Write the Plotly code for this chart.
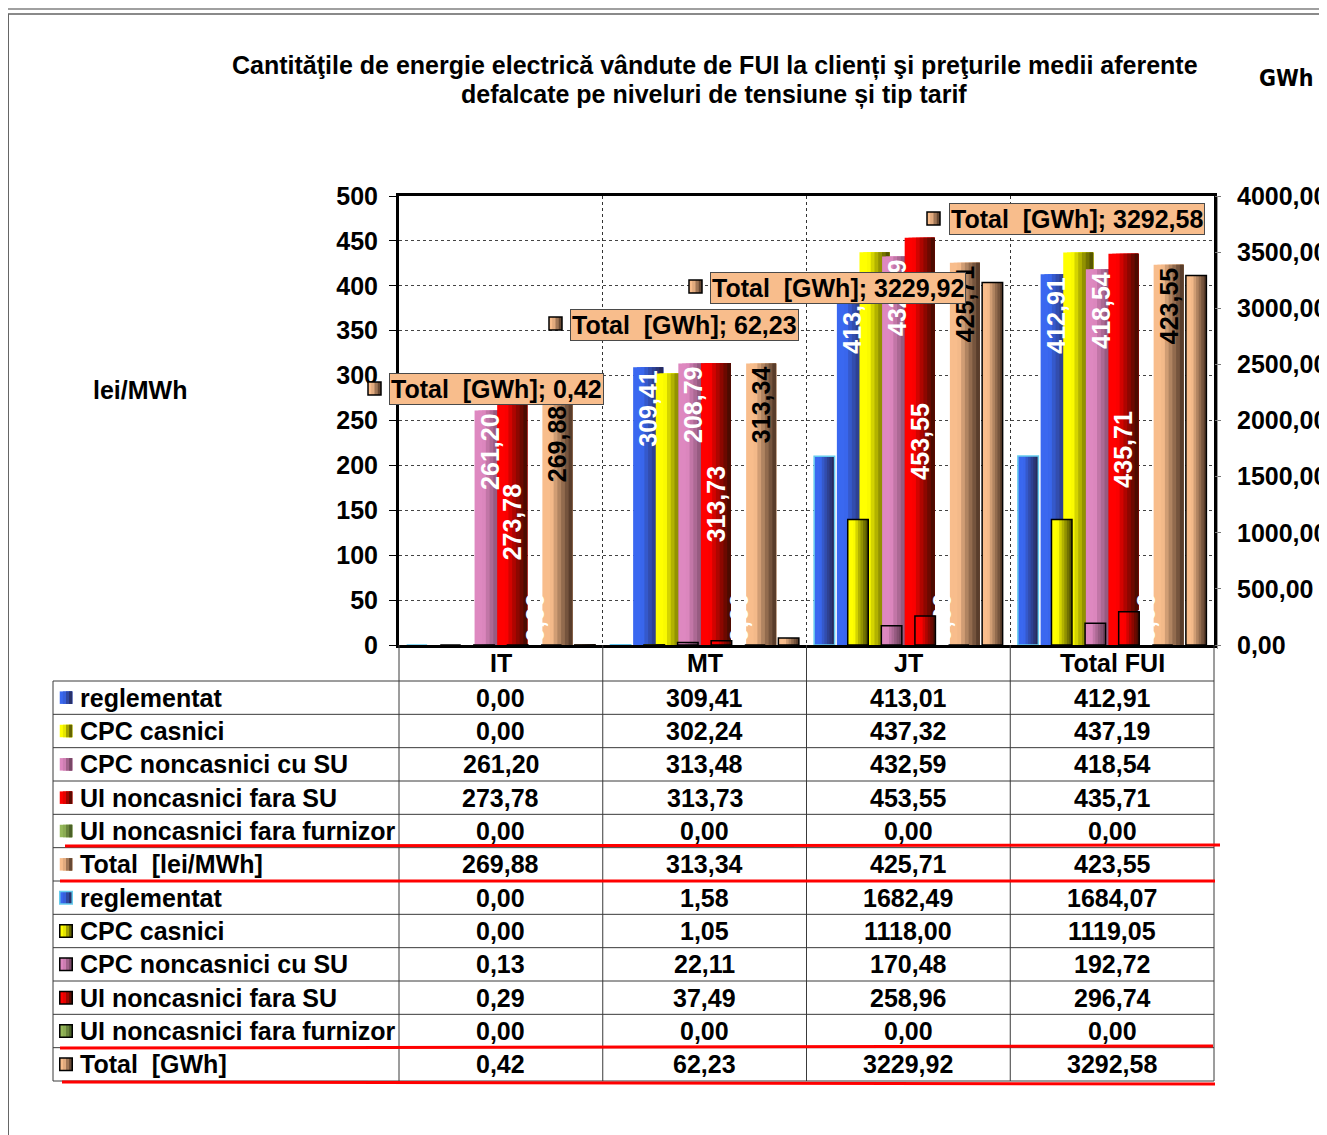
import plotly.graph_objects as go

# ---------------- data ----------------
categories = ["IT", "MT", "JT", "Total FUI"]

# average prices [lei/MWh]  (primary axis)
lei_reglementat = [0.00, 309.41, 413.01, 412.91]
lei_cpc_casnici = [0.00, 302.24, 437.32, 437.19]
lei_cpc_noncasnici_su = [261.20, 313.48, 432.59, 418.54]
lei_ui_fara_su = [273.78, 313.73, 453.55, 435.71]
lei_ui_fara_furnizor = [0.00, 0.00, 0.00, 0.00]
lei_total = [269.88, 313.34, 425.71, 423.55]

# quantities [GWh]  (secondary axis)
gwh_reglementat = [0.00, 1.58, 1682.49, 1684.07]
gwh_cpc_casnici = [0.00, 1.05, 1118.00, 1119.05]
gwh_cpc_noncasnici_su = [0.13, 22.11, 170.48, 192.72]
gwh_ui_fara_su = [0.29, 37.49, 258.96, 296.74]
gwh_ui_fara_furnizor = [0.00, 0.00, 0.00, 0.00]
gwh_total = [0.42, 62.23, 3229.92, 3292.58]

# data labels as printed on the pink bars
lbl_cpc_noncasnici_su = ["261,20", "208,79", "432,59", "418,54"]

series_names = ["reglementat", "CPC casnici", "CPC noncasnici cu SU",
                "UI noncasnici fara SU", "UI noncasnici fara furnizor"]
lei_total_name = "Total\u00a0 [lei/MWh]"
gwh_total_name = "Total\u00a0 [GWh]"
y_left_title = "lei/MWh"
y_right_title = "GWh"
title_line1 = "Cantităţile de energie electrică vândute de FUI la clienți şi preţurile medii aferente"
title_line2 = "defalcate pe niveluri de tensiune și tip tarif"

# ---------------- styling / geometry ----------------
OFF = 8                      # page body margin of the html page
PAGE_W, PAGE_H = 1327, 1135
FW, FH = PAGE_W - OFF, PAGE_H - OFF
FONT = "Liberation Sans, Arial, sans-serif"
NARROW = "DejaVu Sans Condensed, Liberation Sans Narrow, Arial Narrow, sans-serif"
FS = 25


def px(x):
    return (x - OFF) / FW


def py(y):
    return 1 - (y - OFF) / FH


def fmt(v):
    return f"{v:.2f}".replace(".", ",")


def bold(size=FS, color="black", family=FONT):
    return dict(family=family, size=size, color=color, weight="bold")


PL, PR, PT, PB = 399, 1214, 196, 645
CAT = (PR - PL) / 4.0

LEI_W, LEI_STEP, LEI_C0 = 30 / CAT, 22.6 / CAT, -56.5 / CAT
GWH_W, GWH_STEP, GWH_C0 = 20.5 / CAT, 33.6 / CAT, -84 / CAT

light = [(58, 104, 240), (255, 255, 0), (222, 136, 192), (255, 0, 0), (150, 185, 90), (248, 189, 140)]
dark = [(38, 38, 80), (70, 70, 0), (100, 60, 85), (60, 12, 0), (60, 80, 30), (75, 50, 35)]
gwh_edge = ["#66ccee", "black", "black", "black", "black", "black"]


def shade(j, t):
    f = 0.0 if t < 0.3 else ((t - 0.3) / 0.7) ** 0.9
    c = [round(a + (b - a) * f) for a, b in zip(light[j], dark[j])]
    return f"rgb({c[0]},{c[1]},{c[2]})"


N = 8
lei_series = [lei_reglementat, lei_cpc_casnici, lei_cpc_noncasnici_su,
              lei_ui_fara_su, lei_ui_fara_furnizor, lei_total]
gwh_series = [gwh_reglementat, gwh_cpc_casnici, gwh_cpc_noncasnici_su,
              gwh_ui_fara_su, gwh_ui_fara_furnizor, gwh_total]

label_specs = [
    ([fmt(v) if v else "" for v in lei_reglementat], "white", "inside", "end"),
    None,
    (lbl_cpc_noncasnici_su, "white", "inside", "end"),
    ([fmt(v) for v in lei_ui_fara_su], "white", "inside", "middle"),
    ([fmt(v) for v in lei_ui_fara_furnizor], "white", "outside", "end"),
    ([fmt(v) for v in lei_total], "black", "inside", "end"),
]

fig = go.Figure()

# primary (lei/MWh) bars with horizontal gradient
for j, vals in enumerate(lei_series):
    c = LEI_C0 + j * LEI_STEP
    for k in range(N):
        fig.add_trace(go.Bar(
            x=categories, y=vals, yaxis="y",
            width=LEI_W * (1 - k / N), offset=c - LEI_W / 2 + k * LEI_W / N,
            marker=dict(color=shade(j, (k + 0.5) / N), line=dict(width=0)),
            hoverinfo="skip", showlegend=False))

# labels of primary bars
for j, vals in enumerate(lei_series):
    spec = label_specs[j]
    if spec is None:
        continue
    texts, col, pos, anch = spec
    c = LEI_C0 + j * LEI_STEP
    fig.add_trace(go.Bar(
        x=categories, y=vals, yaxis="y",
        width=LEI_W, offset=c - LEI_W / 2,
        marker=dict(color="rgba(0,0,0,0)", line=dict(width=0)),
        text=texts, textposition=pos, insidetextanchor=anch, textangle=-90,
        constraintext="none", cliponaxis=False,
        textfont=bold(color=col),
        hoverinfo="skip", showlegend=False))

# secondary (GWh) bars
for j, vals in enumerate(gwh_series):
    c = GWH_C0 + j * GWH_STEP
    for k in range(N):
        fig.add_trace(go.Bar(
            x=categories, y=vals, yaxis="y2",
            width=GWH_W * (1 - k / N), offset=c - GWH_W / 2 + k * GWH_W / N,
            marker=dict(color=shade(j, (k + 0.5) / N), line=dict(width=0)),
            hoverinfo="skip", showlegend=False))
    fig.add_trace(go.Bar(
        x=categories, y=vals, yaxis="y2",
        width=GWH_W, offset=c - GWH_W / 2,
        marker=dict(color="rgba(0,0,0,0)", line=dict(width=1.5, color=gwh_edge[j])),
        hoverinfo="skip", showlegend=False))

shapes = []
annotations = []

# frame lines
shapes += [
    dict(type="line", xref="paper", yref="paper", x0=0, x1=1, y0=py(9), y1=py(9),
         line=dict(color="#a0a0a0", width=2)),
    dict(type="line", xref="paper", yref="paper", x0=0, x1=1, y0=py(14), y1=py(14),
         line=dict(color="#8a8a8a", width=2)),
    dict(type="line", xref="paper", yref="paper", x0=px(8.5), x1=px(8.5), y0=py(14), y1=0,
         line=dict(color="#666666", width=1)),
    # thin grey secondary axis line
    dict(type="line", xref="paper", yref="paper", x0=px(1217.5), x1=px(1217.5),
         y0=py(PT), y1=py(PB + 4), line=dict(color="#9a9a9a", width=1)),
]

# data table
ROW_TOP, ROW_BOT = 681, 1081
RH = (ROW_BOT - ROW_TOP) / 12
col_x = [PL + CAT * i for i in range(5)]
for i in range(13):
    y = ROW_TOP + i * RH
    shapes.append(dict(type="line", xref="paper", yref="paper", x0=px(53), x1=px(PR),
                       y0=py(y), y1=py(y), line=dict(color="#3a3a3a", width=1)))
shapes.append(dict(type="line", xref="paper", yref="paper", x0=px(53), x1=px(53),
                   y0=py(ROW_TOP), y1=py(ROW_BOT), line=dict(color="#3a3a3a", width=1)))
for x in col_x:
    shapes.append(dict(type="line", xref="paper", yref="paper", x0=px(x), x1=px(x),
                       y0=py(PB), y1=py(ROW_BOT), line=dict(color="#3a3a3a", width=1)))

# category header row of the table
for c, cat in enumerate(categories):
    annotations.append(dict(xref="paper", yref="paper", x=px(col_x[c] + CAT / 2), y=py(663),
                            text=cat, xanchor="center", yanchor="middle",
                            showarrow=False, font=bold()))

row_names = series_names + [lei_total_name] + series_names + [gwh_total_name]
row_values = lei_series + gwh_series


def key(xc, yc, j, border, size=12.5):
    out = []
    x0, y0 = xc - size / 2, yc - size / 2
    n = 4
    for k in range(n):
        out.append(dict(type="rect", xref="paper", yref="paper",
                        x0=px(x0 + k * size / n), x1=px(x0 + size), y0=py(y0), y1=py(y0 + size),
                        fillcolor=shade(j, (k + 0.5) / n), line=dict(width=0)))
    if border:
        out.append(dict(type="rect", xref="paper", yref="paper",
                        x0=px(x0), x1=px(x0 + size), y0=py(y0), y1=py(y0 + size),
                        fillcolor="rgba(0,0,0,0)", line=dict(width=1.5, color=border)))
    return out


for i, (name, vals) in enumerate(zip(row_names, row_values)):
    yc = ROW_TOP + (i + 0.5) * RH
    j = i % 6
    shapes += key(66, yc, j, None if i < 6 else gwh_edge[j])
    annotations.append(dict(xref="paper", yref="paper", x=px(78), y=py(yc), text=name,
                            xanchor="left", yanchor="middle", showarrow=False, font=bold()))
    for c, v in enumerate(vals):
        annotations.append(dict(xref="paper", yref="paper", x=px(col_x[c] + CAT / 2), y=py(yc),
                                text=fmt(v), xanchor="center", yanchor="middle",
                                showarrow=False, font=bold()))

# red underline strokes
for (x0, y0, x1, y1) in [(65, 846, 1220, 845), (60, 881, 1215, 881),
                         (60, 1048, 1213, 1046), (62, 1082, 1215, 1084)]:
    shapes.append(dict(type="line", xref="paper", yref="paper", x0=px(x0), x1=px(x1),
                       y0=py(y0), y1=py(y1), line=dict(color="#ff0000", width=3)))

# total GWh callout labels
box_centers = [(497, 389.5), (684.5, 324.5), (838.5, 287.5), (1077, 219.5)]
key_centers = [(374.5, 388.5), (555.5, 323.5), (695.5, 286.5), (933.5, 218.5)]
for v, (bx, by), (kx, ky) in zip(gwh_total, box_centers, key_centers):
    annotations.append(dict(xref="paper", yref="paper", x=px(bx), y=py(by),
                            text=f"Total\u00a0 [GWh]; {fmt(v)}", showarrow=False,
                            xanchor="center", yanchor="middle",
                            bgcolor="#f8bd8c", bordercolor="#4a4a4a", borderwidth=1, borderpad=1,
                            font=bold()))
    shapes += key(kx, ky, 5, "black", size=13)

# title (two lines) and axis titles
annotations.append(dict(xref="paper", yref="paper", x=px(715), y=py(66), text=title_line1,
                        showarrow=False, xanchor="center", yanchor="middle", font=bold()))
annotations.append(dict(xref="paper", yref="paper", x=px(714), y=py(94), text=title_line2,
                        showarrow=False, xanchor="center", yanchor="middle", font=bold()))
annotations.append(dict(xref="paper", yref="paper", x=px(140), y=py(390), text=y_left_title,
                        showarrow=False, xanchor="center", yanchor="middle", font=bold()))
annotations.append(dict(xref="paper", yref="paper", x=px(1286), y=py(78), text=y_right_title,
                        showarrow=False, xanchor="center", yanchor="middle",
                        font=bold(size=23, family=NARROW)))

fig.update_layout(
    width=FW, height=FH, margin=dict(l=0, r=0, t=0, b=0, pad=0, autoexpand=False),
    paper_bgcolor="white", plot_bgcolor="white",
    barmode="overlay", separators=",.", showlegend=False, hovermode=False,
    font=bold(),
    xaxis=dict(domain=[px(PL), px(PR)], type="category", range=[-0.5, 3.5], automargin=False,
               tickson="boundaries", showgrid=True, griddash="dot", gridcolor="#333333",
               gridwidth=1, showline=True, linecolor="black", linewidth=3, mirror=True,
               ticks="", showticklabels=False),
    yaxis=dict(domain=[py(PB), py(PT)], range=[0, 500], dtick=50, ticks="outside",
               automargin=False,
               ticklen=7, tickcolor="black", tickwidth=1, showgrid=True, griddash="dot",
               gridcolor="#444444", gridwidth=1, showline=True, linecolor="black",
               linewidth=3, mirror=True, zeroline=False, ticklabelstandoff=6,
               tickfont=bold()),
    yaxis2=dict(overlaying="y", side="right", range=[0, 4000], dtick=500, automargin=False,
                tickformat=".2f", ticks="outside", ticklen=6, tickcolor="#777777",
                showgrid=False, zeroline=False, showline=False, ticklabelstandoff=11,
                tickfont=bold()),
    shapes=shapes, annotations=annotations,
)

fig.write_html("out.html")
